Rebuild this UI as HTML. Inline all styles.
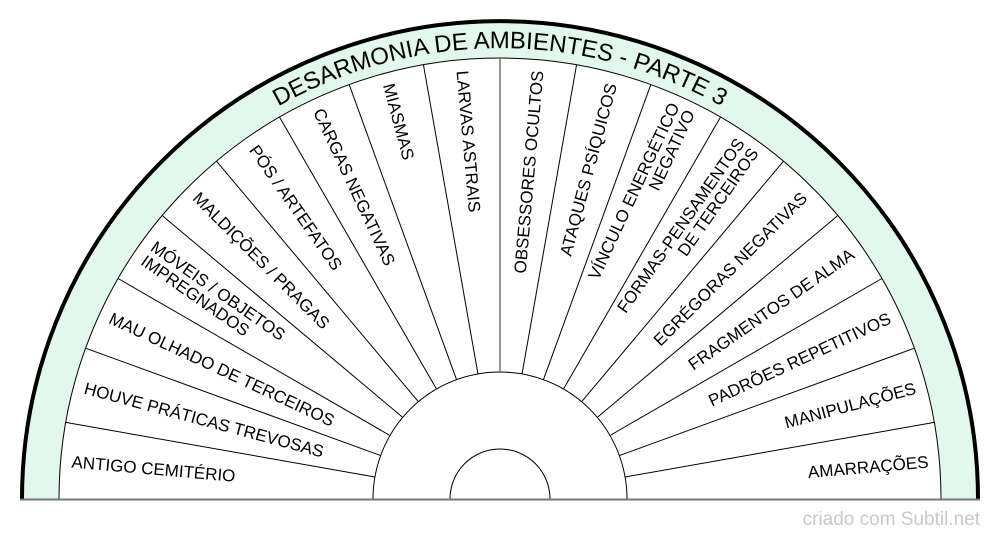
<!DOCTYPE html>
<html><head><meta charset="utf-8"><style>
html,body{margin:0;padding:0;background:#fff;}
svg{display:block;font-family:"Liberation Sans",sans-serif;}
</style></head><body>
<svg width="1000" height="540" viewBox="0 0 1000 540" xmlns="http://www.w3.org/2000/svg">
<path d="M22,499 A478,478 0 0 1 978,499 Z" fill="#e3f8ec" stroke="none"/>
<path d="M22,499 A478,478 0 0 1 978,499" fill="none" stroke="#000" stroke-width="4"/>
<path d="M59,499 A441,441 0 0 1 941,499 Z" fill="#fff" stroke="#000" stroke-width="1"/>
<path d="M373,499 A127,127 0 0 1 627,499" fill="#fff" stroke="#000" stroke-width="1"/>
<path d="M450,499 A50,50 0 0 1 550,499" fill="#fff" stroke="#000" stroke-width="1"/>
<g stroke="#000" stroke-width="1" transform="translate(500,499)">
<line x1="127" x2="441" transform="rotate(-10)"/>
<line x1="127" x2="441" transform="rotate(-20)"/>
<line x1="127" x2="441" transform="rotate(-30)"/>
<line x1="127" x2="441" transform="rotate(-40)"/>
<line x1="127" x2="441" transform="rotate(-50)"/>
<line x1="127" x2="441" transform="rotate(-60)"/>
<line x1="127" x2="441" transform="rotate(-70)"/>
<line x1="127" x2="441" transform="rotate(-80)"/>
<line x1="127" x2="441" transform="rotate(-100)"/>
<line x1="127" x2="441" transform="rotate(-110)"/>
<line x1="127" x2="441" transform="rotate(-120)"/>
<line x1="127" x2="441" transform="rotate(-130)"/>
<line x1="127" x2="441" transform="rotate(-140)"/>
<line x1="127" x2="441" transform="rotate(-150)"/>
<line x1="127" x2="441" transform="rotate(-160)"/>
<line x1="127" x2="441" transform="rotate(-170)"/>
</g>
<line x1="500" y1="372" x2="500" y2="58" stroke="#777" stroke-width="1.5"/>
<line x1="20" y1="499.5" x2="980" y2="499.5" stroke="#777" stroke-width="2"/>
<defs><path id="arc" d="M49,499 A451,451 0 0 1 951,499"/></defs>
<text font-size="24" text-anchor="middle"><textPath href="#arc" startOffset="50%">DESARMONIA DE AMBIENTES - PARTE 3</textPath></text>
<g font-size="17" fill="#000">
<g transform="translate(500,499)">
<text transform="rotate(5)" x="-430" y="6">ANTIGO CEMITÉRIO</text>
<text transform="rotate(15)" x="-430" y="6">HOUVE PRÁTICAS TREVOSAS</text>
<text transform="rotate(25)" x="-430" y="6">MAU OLHADO DE TERCEIROS</text>
<text transform="rotate(35)" x="-430" y="-3">MÓVEIS / OBJETOS</text>
<text transform="rotate(35)" x="-430" y="14">IMPREGNADOS</text>
<text transform="rotate(45)" x="-430" y="6">MALDIÇÕES / PRAGAS</text>
<text transform="rotate(55)" x="-430" y="6">PÓS / ARTEFATOS</text>
<text transform="rotate(65)" x="-430" y="6">CARGAS NEGATIVAS</text>
<text transform="rotate(75)" x="-430" y="6">MIASMAS</text>
<text transform="rotate(85)" x="-430" y="6">LARVAS ASTRAIS</text>
<text transform="rotate(-85)" x="430" y="6" text-anchor="end">OBSESSORES OCULTOS</text>
<text transform="rotate(-75)" x="430" y="6" text-anchor="end">ATAQUES PSÍQUICOS</text>
<text transform="rotate(-65)" x="432" y="-3" text-anchor="end">VÍNCULO ENERGÉTICO</text>
<text transform="rotate(-65)" x="432" y="14" text-anchor="end">NEGATIVO</text>
<text transform="rotate(-55)" x="432" y="-3" text-anchor="end">FORMAS-PENSAMENTOS</text>
<text transform="rotate(-55)" x="432" y="14" text-anchor="end">DE TERCEIROS</text>
<text transform="rotate(-45)" x="430" y="6" text-anchor="end">EGRÉGORAS NEGATIVAS</text>
<text transform="rotate(-35)" x="430" y="6" text-anchor="end">FRAGMENTOS DE ALMA</text>
<text transform="rotate(-25)" x="430" y="6" text-anchor="end">PADRÕES REPETITIVOS</text>
<text transform="rotate(-15)" x="430" y="6" text-anchor="end">MANIPULAÇÕES</text>
<text transform="rotate(-5)" x="430" y="6" text-anchor="end">AMARRAÇÕES</text>
</g>
</g>
<text x="980" y="525" font-size="19" fill="#c8c8c8" text-anchor="end">criado com Subtil.net</text>
</svg>
</body></html>
